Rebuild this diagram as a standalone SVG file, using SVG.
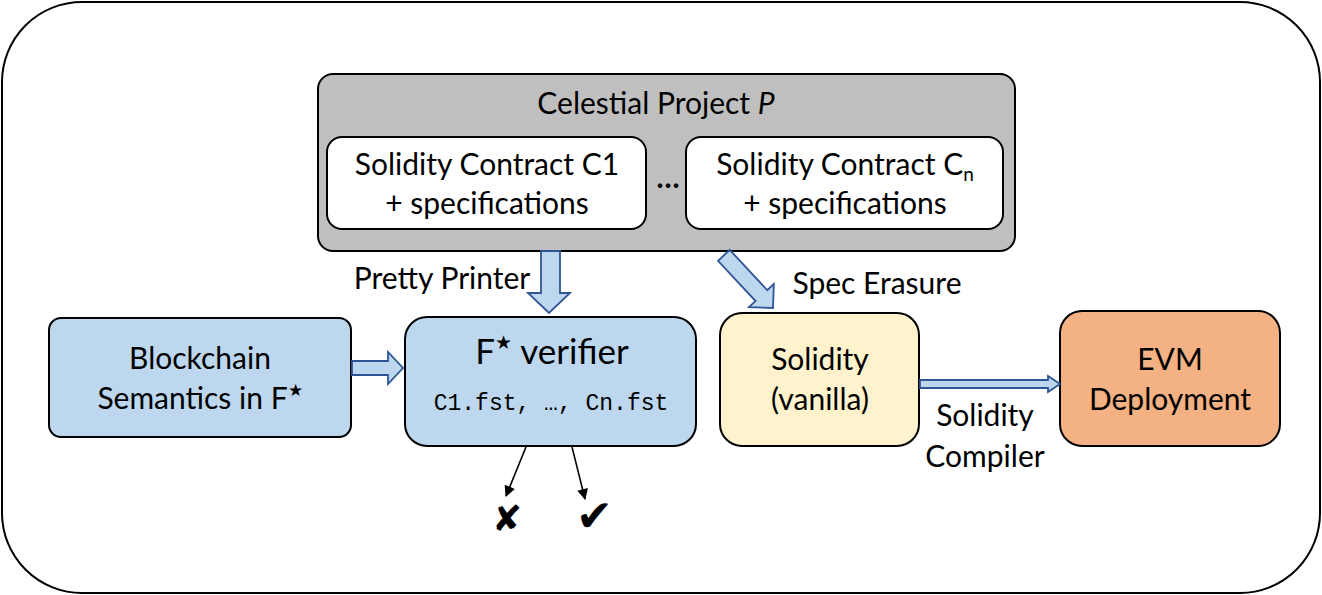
<svg xmlns="http://www.w3.org/2000/svg" width="1322" height="595" viewBox="0 0 1322 595">
<defs>
<style>
text{font-family:Lato,"Open Sans",sans-serif;fill:#000;text-anchor:middle}
.box{stroke:#000;stroke-width:2}
.big{font-size:30px}
.blue{fill:#bdd7ee}
.barrow{fill:#bdd7ee;stroke:#2f5597;stroke-width:1.8;stroke-linejoin:miter}
.thin{stroke:#000;stroke-width:1.6;fill:none;marker-end:url(#ah)}
.mono{font-family:"Liberation Mono","DejaVu Sans Mono",monospace;font-size:23px}
</style>
<marker id="ah" viewBox="0 0 10 10" refX="9" refY="5" markerWidth="13" markerHeight="11" orient="auto" markerUnits="userSpaceOnUse">
<path d="M0,0 L10,5 L0,10 z" fill="#000"/>
</marker>
</defs>
<rect x="2" y="2" width="1318" height="591" rx="80" ry="80" fill="#fff" stroke="#000" stroke-width="2"/>

<g id="celestial">
<rect class="box" x="318" y="74" width="697" height="177" rx="15" fill="#bfbfbf"/>
<text class="big" x="656" y="114">Celestial Project <tspan font-style="italic">P</tspan></text>
<text x="668" y="188" font-size="30" font-weight="bold">…</text>
</g>
<g id="c1">
<rect class="box" x="327" y="137" width="319" height="92" rx="15" fill="#fff"/>
<text class="big" x="487" y="175">Solidity Contract C1</text>
<text class="big" x="487" y="214">+ specifications</text>
</g>
<g id="cn">
<rect class="box" x="686" y="137" width="317" height="92" rx="15" fill="#fff"/>
<text class="big" x="845" y="175">Solidity Contract C<tspan font-size="19" dy="6">n</tspan></text>
<text class="big" x="845" y="214">+ specifications</text>
</g>
<g id="blockchain">
<rect class="box blue" x="49" y="318" width="302" height="119" rx="12"/>
<text class="big" x="200" y="369">Blockchain</text>
<text class="big" x="200" y="409">Semantics in F<tspan font-size="17" dy="-13">★</tspan></text>
</g>
<g id="fstar">
<rect class="box blue" x="405" y="317" width="291" height="129" rx="22"/>
<text x="552" y="364" font-size="35">F<tspan font-size="19" dy="-15">★</tspan><tspan dy="15"> verifier</tspan></text>
<text class="mono" x="551" y="410">C1.fst, …, Cn.fst</text>
</g>
<g id="solidity">
<rect class="box" x="720" y="313" width="199" height="133" rx="22" fill="#fff2cc"/>
<text class="big" x="820" y="370">Solidity</text>
<text class="big" x="820" y="410">(vanilla)</text>
</g>
<g id="evm">
<rect class="box" x="1060" y="311" width="220" height="135" rx="22" fill="#f4b183"/>
<text class="big" x="1170" y="370">EVM</text>
<text class="big" x="1170" y="410">Deployment</text>
</g>

<g id="connectors">
<path class="barrow" d="M541,251 L560,251 L560,293 L570,293 L549,313 L528,293 L541,293 Z"/>
<path class="barrow" d="M352,361 L388,361 L388,352 L403,368 L388,384 L388,375 L352,375 Z"/>
<path class="barrow" transform="translate(773,308) rotate(47)" d="M-72,-8 L-17,-8 L-17,-17 L0,0 L-17,17 L-17,8 L-72,8 Z"/>
<path class="barrow" d="M920,380 L1048,380 L1048,376 L1060,384 L1048,392 L1048,388 L920,388 Z"/>
<line class="thin" x1="526" y1="447" x2="506" y2="496"/>
<line class="thin" x1="572" y1="447" x2="585" y2="499"/>
<text class="big" x="442" y="289">Pretty Printer</text>
<text class="big" x="877" y="294">Spec Erasure</text>
<text class="big" x="985" y="426">Solidity</text>
<text class="big" x="985" y="467">Compiler</text>
</g>
<g id="results">
<text x="507" y="531" font-family="DejaVu Sans" font-size="36">✘</text>
<text x="594" y="531" font-family="DejaVu Sans" font-size="44">✔</text>
</g>
</svg>
